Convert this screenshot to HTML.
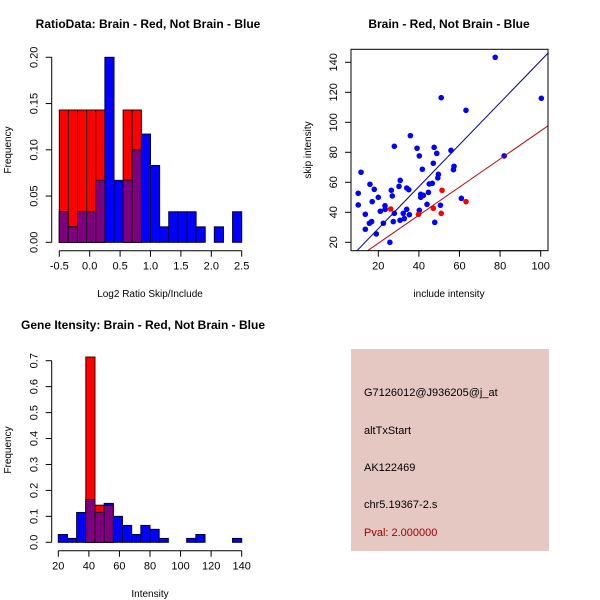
<!DOCTYPE html>
<html><head><meta charset="utf-8"><style>
body{margin:0;background:#fff}
svg{display:block;font-family:"Liberation Sans",sans-serif}
</style></head><body>
<svg id="c" width="600" height="600" xmlns="http://www.w3.org/2000/svg">
<rect x="351" y="349" width="198" height="202" fill="#e6c8c3"/>
<g font-size="11" fill="#000">
<text x="364" y="396">G7126012@J936205@j_at</text>
<text x="364" y="434">altTxStart</text>
<text x="364" y="471">AK122469</text>
<text x="364" y="508">chr5.19367-2.s</text>
<text x="364" y="536" fill="#a00000">Pval: 2.000000</text>
</g>
</svg>
<script>
// Panel 1 data
const ratioBlue=[0.033,0.0167,0.033,0.033,0.067,0.2,0.067,0.067,0.1,0.117,0.083,0.0167,0.033,0.033,0.033,0.0167,0,0.0167,0,0.033];
const ratioRed=[0.143,0.143,0.143,0.143,0.143,0,0,0.143,0.143,0,0,0,0,0,0,0,0,0,0,0];
const ratioStart=-0.5, ratioWidth=0.15;
const ratioXTicks=["-0.5","0.0","0.5","1.0","1.5","2.0","2.5"];
const ratioYTicks=["0.00","0.05","0.10","0.15","0.20"];
// Panel 2 data
const blueX=[10.1,10.1,11.5,13.6,13.6,15.9,15.6,16.7,17.0,18.0,19.0,20,21,22.5,23.3,23.4,25.7,26.4,26.9,27.4,27.9,27.9,30.2,30.8,30.7,32.3,32.8,34,34,35,35.3,35.8,39.1,40.2,40.2,40.9,40.9,42.2,41.7,44,44.7,45.1,46.6,47.1,47.5,47.8,48.8,49.3,49.6,50.6,51,55.8,57,57.3,60.9,63.2,77.6,82,100.3];
const blueY=[52.7,44.9,66.7,38.7,28.7,58.7,32.7,33.8,47.1,55.3,25.6,50,40.7,32.7,44.4,42,20,54.7,50.9,33.8,84,39.3,57.3,61.3,34.7,39.3,35.8,42,56.2,55.1,38.4,91.1,82.7,77.6,41.3,52,50,51.3,68.7,45.3,53.3,58.9,59.3,72.7,83.3,33.3,79.3,62.9,65.3,44.7,116.4,81.3,68.4,70.7,49.3,108,143.3,77.6,116];
const redX=[26.1,39.8,47.1,51.4,51,63.2];
const redY=[42.2,38.7,42.7,54.7,39.3,47.1];
const blueLine=[1.1,1.40];
const redLine=[0.6,0.937];
const scatXTicks=[20,40,60,80,100];
const scatYTicks=[20,40,60,80,100,120,140];
// Panel 3 data
const intBlue=[0.03,0.015,0.115,0.165,0.115,0.15,0.1,0.065,0.03,0.065,0.05,0.015,0,0,0.015,0.03,0,0,0,0.015];
const intRed=[0,0,0,0.714,0.143,0.143,0,0,0,0,0,0,0,0,0,0,0,0,0,0];
const intStart=20, intWidth=6;
const intXTicks=[20,40,60,80,100,120,140];
const intYTicks=["0.0","0.1","0.2","0.3","0.4","0.5","0.6","0.7"];

const svg=document.getElementById('c');const NS="http://www.w3.org/2000/svg";
function mk(t,a,p){const e=document.createElementNS(NS,t);for(const k in a)e.setAttribute(k,a[k]);(p||svg).appendChild(e);return e;}
function txt(x,y,s,a,p){const e=mk('text',Object.assign({x:x,y:y,'text-anchor':'middle','font-size':11},a||{}),p);e.textContent=s;return e;}

function hist(cfg){
  const g=mk('g',{});
  
  
  const X=v=>cfg.x0+(v-cfg.dx0)*(cfg.x1-cfg.x0)/(cfg.dx1-cfg.dx0);
  const Y=v=>cfg.y0-(v-cfg.dy0)*(cfg.y0-cfg.y1)/(cfg.dy1-cfg.dy0);
  cfg.blue.forEach((b,i)=>{
    const r=cfg.red[i];const l=X(cfg.start+i*cfg.w),rr=X(cfg.start+(i+1)*cfg.w);
    const m=Math.min(b,r);
    if(r>0){const e=mk('rect',{x:l,y:Y(r),width:rr-l,height:Y(0)-Y(r),fill:'#ff0000',stroke:'#300000','stroke-width':1},g);
      }
    if(b>0){const e=mk('rect',{x:l,y:Y(b),width:rr-l,height:Y(0)-Y(b),fill:'#0000ff',stroke:'#000030','stroke-width':1},g);
      }
    if(m>0){const e=mk('rect',{x:l,y:Y(m),width:rr-l,height:Y(0)-Y(m),fill:'#7f007f',stroke:'#200020','stroke-width':1},g);
      }
  });
  axes(cfg,X,Y);
}
function axes(cfg,X,Y){
  const g=mk('g',{stroke:'#000','stroke-width':1,fill:'none'});
  
  
  const xv=cfg.xt.map(Number),yv=cfg.yt.map(Number);
  const ax=cfg.axY, ay=cfg.axX;
  mk('line',{x1:X(xv[0]),x2:X(xv[xv.length-1]),y1:ay,y2:ay},g);
  mk('line',{x1:ax,x2:ax,y1:Y(yv[0]),y2:Y(yv[yv.length-1])},g);
  cfg.xt.forEach((t,i)=>{mk('line',{x1:X(xv[i]),x2:X(xv[i]),y1:ay,y2:ay+6},g);
    const e=txt(X(xv[i]),ay+19,String(t));});
  cfg.yt.forEach((t,i)=>{mk('line',{x1:ax,x2:ax-6,y1:Y(yv[i]),y2:Y(yv[i])},g);
    const yy=Y(yv[i]);const e=txt(ax-14,yy,String(t),{transform:`rotate(-90 ${ax-14} ${yy})`});
    });
  const xt=txt(cfg.xlx,cfg.xly,cfg.xl,{'font-size':10});
  const yt=txt(cfg.ylx,cfg.yly,cfg.yl,{'font-size':10,transform:`rotate(-90 ${cfg.ylx} ${cfg.yly})`});
  const tt=txt(cfg.tx,cfg.ty,cfg.title,{'font-weight':'bold','font-size':12});
}
hist({name:'ratio-histogram',blue:ratioBlue,red:ratioRed,start:ratioStart,w:ratioWidth,
  x0:59.3,x1:241.7,dx0:-0.5,dx1:2.5,y0:242.3,y1:57.3,dy0:0,dy1:0.2,xt:ratioXTicks,yt:ratioYTicks,
  axX:250.7,axY:51.7,xl:'Log2 Ratio Skip/Include',xlx:150,xly:297,yl:'Frequency',ylx:11,yly:150,
  title:'RatioData: Brain - Red, Not Brain - Blue',tx:148,ty:28});
hist({name:'intensity-histogram',blue:intBlue,red:intRed,start:intStart,w:intWidth,
  x0:58.3,x1:241.7,dx0:20,dx1:140,y0:542.3,y1:360.7,dy0:0,dy1:0.7,xt:intXTicks,yt:intYTicks,
  axX:550.7,axY:51.7,xl:'Intensity',xlx:150,xly:597,yl:'Frequency',ylx:11,yly:450,
  title:'Gene Itensity: Brain - Red, Not Brain - Blue',tx:143,ty:329});
// scatter
(function(){
  const X=v=>378.3+(v-20)*2.03, Y=v=>242.3-(v-20)*1.5;
  mk('clipPath',{id:'cp'}).appendChild(document.createElementNS(NS,'rect'));
  const cr=svg.querySelector('#cp rect');cr.setAttribute('x',351);cr.setAttribute('y',49.3);cr.setAttribute('width',197);cr.setAttribute('height',201.4);
  const g=mk('g',{'clip-path':'url(#cp)'});
  
  blueX.forEach((x,i)=>{const c=mk('circle',{cx:X(x),cy:Y(blueY[i]),r:2.8,fill:'#0000ff'},g);
    });
  redX.forEach((x,i)=>{const c=mk('circle',{cx:X(x),cy:Y(redY[i]),r:2.8,fill:'#ff0000'},g);
    });
  [[blueLine,'#00008b','blue-fit-line'],[redLine,'#c00000','red-fit-line']].forEach(([L,col,n])=>{
    const xa=0,xb=110;const l=mk('line',{x1:X(xa),y1:Y(L[0]+L[1]*xa),x2:X(xb),y2:Y(L[0]+L[1]*xb),stroke:col,'stroke-width':1},g);
    });
  const b=mk('rect',{x:351,y:49.3,width:197,height:201.4,fill:'none',stroke:'#000'});
  
  axes({name:'scatter',xt:scatXTicks,yt:scatYTicks,axX:250.7,axY:351,xl:'include intensity',xlx:449,xly:297,
    yl:'skip intensity',ylx:311,yly:150,title:'Brain - Red, Not Brain - Blue',tx:449,ty:28},X,Y);
  // remove axis lines (box replaces them) - keep ticks
})();
</script>
</body></html>
